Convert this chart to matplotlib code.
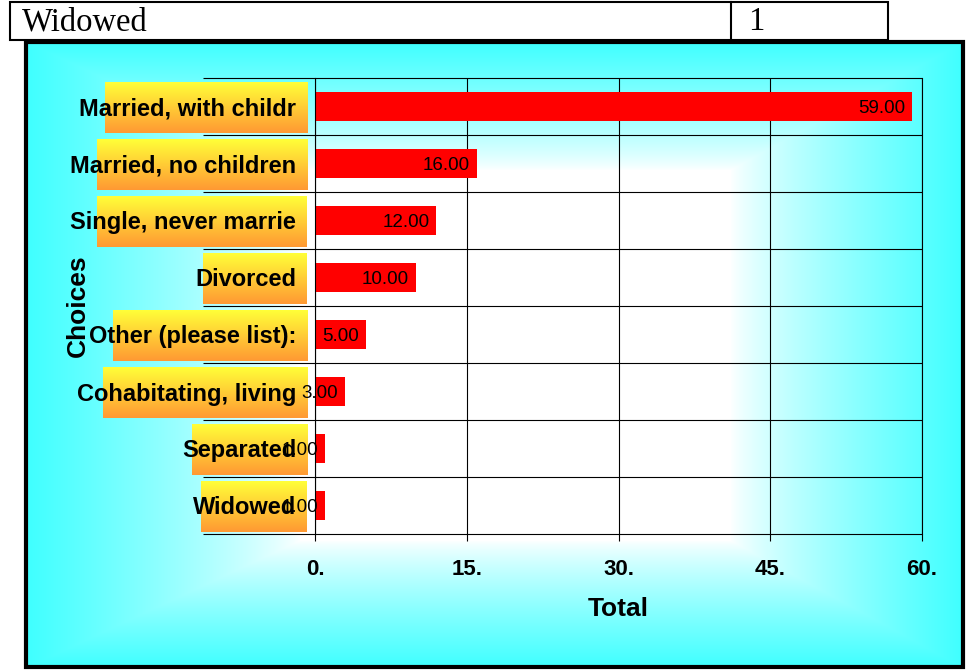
import numpy as np
import matplotlib

matplotlib.use("Agg")
import matplotlib.pyplot as plt
from matplotlib.patches import Rectangle

plt.rcParams["font.family"] = ["Liberation Sans", "DejaVu Sans"]

categories = ["Married, with childr", "Married, no children", "Single, never marrie",
              "Divorced", "Other (please list):", "Cohabitating, living",
              "Separated", "Widowed"]
totals = [59, 16, 12, 10, 5, 3, 1, 1]
xticks = [0, 15, 30, 45, 60]
xtick_labels = ["0.", "15.", "30.", "45.", "60."]
table_row = ["Widowed", "1"]

W, H = 966, 671
fig = plt.figure(figsize=(W / 100, H / 100), dpi=100)

# backdrop axes in pixel coords (y pointing down)
bg = fig.add_axes([0, 0, 1, 1], zorder=0)
bg.set_xlim(0, W); bg.set_ylim(H, 0)
bg.set_autoscale_on(False)
bg.axis("off")

# rectangular "from centre" gradient: white core -> cyan rim
xx, yy = np.meshgrid(np.arange(27, 963), np.arange(42, 667))
tx = np.maximum((300 - xx) / 273, (xx - 730) / 232)
ty = np.maximum((170 - yy) / 128, (yy - 540) / 127)
t = np.clip(np.maximum(tx, ty), 0, 1) ** 0.8
t = t[..., None]
cyan = np.array([0.25, 1.0, 1.0])
bg.imshow((1 - t) + t * cyan, extent=(27, 963, 667, 42), aspect="auto",
          interpolation="bilinear", zorder=0)
bg.add_patch(Rectangle((26, 42), 937, 625, fill=False, lw=3, ec="black", zorder=3))

# the table row above the chart
bg.add_patch(Rectangle((10, 2), 878, 38, fill=False, lw=1.5, ec="black", zorder=3))
bg.plot([731, 731], [2, 40], c="black", lw=1.5, zorder=3)
bg.text(22, 22, table_row[0], family="Liberation Serif", fontsize=23.5, va="center")
bg.text(748, 22, table_row[1], family="Liberation Serif", fontsize=23.5, va="center")

# main chart
ax = fig.add_axes([315 / W, 1 - 534 / H, 607 / W, 456 / H], zorder=1)
ax.set_facecolor("none")
y = np.arange(len(categories))
ax.barh(y, totals, height=0.52, color="#FF0000", zorder=2)
ax.set_xlim(0, 60)
ax.set_ylim(len(categories) - 0.5, -0.5)
ax.set_xticks(xticks, xtick_labels, fontsize=16, fontweight="bold")
ax.set_yticks(y, categories, fontsize=17, fontweight="bold")
ax.tick_params(axis="y", length=0, pad=13.5)
ax.tick_params(axis="x", length=5, width=0.8, direction="out", pad=13)
ax.set_axisbelow(True)
ax.grid(axis="x", color="black", lw=0.8)
for s in ["top", "bottom"]:
    ax.spines[s].set_visible(False)
for s in ["left", "right"]:
    ax.spines[s].set_linewidth(0.8)
bounds = np.arange(len(categories) + 1) - 0.5
ax.hlines(bounds, -0.185, 1, transform=ax.get_yaxis_transform(),
          colors="black", lw=0.8, clip_on=False)

for yi, v in zip(y, totals):
    ax.annotate(f"{v:.2f}", (v, yi), xytext=(-5, -1.5), textcoords="offset points",
                ha="right", va="center", fontsize=13.5, zorder=3)

ax.set_xlabel("Total", fontsize=19, fontweight="bold", labelpad=12)
ax.set_ylabel("Choices", fontsize=19, fontweight="bold", va="center")
ax.yaxis.set_label_coords(-0.39, 0.5)

# yellow/orange gradient boxes behind the category labels
fig.canvas.draw()
rend = fig.canvas.get_renderer()
grad = np.linspace([1.0, 1.0, 0.22], [1.0, 0.6, 0.2], 64)[:, None, :]
box_right = ax.get_position().x0 * W - 8
for lbl, yi in zip(ax.get_yticklabels(), y):
    w = lbl.get_window_extent(rend).width
    yc = H - ax.transData.transform((0, yi))[1]
    row_h = abs(ax.transData.transform((0, yi + 0.5))[1] - ax.transData.transform((0, yi - 0.5))[1])
    left = box_right - (0.85 * w + 18)
    bg.imshow(grad, extent=(left, box_right, yc + row_h / 2 - 2, yc - row_h / 2 + 4),
              aspect="auto", zorder=2)

fig.savefig("out.png", dpi=100)
